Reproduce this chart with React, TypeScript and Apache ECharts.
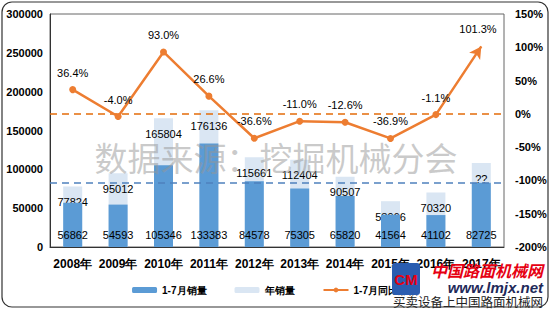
import React, { useEffect, useRef } from "react";
import * as echarts from "echarts";

const categories = ["2008年", "2009年", "2010年", "2011年", "2012年", "2013年", "2014年", "2015年", "2016年", "2017年"];
const monthSales = [56862, 54593, 105346, 133383, 84578, 75305, 65820, 41564, 41102, 82725];
const yearSales = [77824, 95012, 165804, 176136, 115661, 112404, 90507, 58966, 70320, 108000];
const yearLabels = ["77824", "95012", "165804", "176136", "115661", "112404", "90507", "58966", "70320", "??"];
const growth = [36.4, -4.0, 93.0, 26.6, -36.6, -11.0, -12.6, -36.9, -1.1, 101.3];
const legendNames = ["1-7月销量", "年销量", "1-7月同比涨幅"];

const FONT = "Liberation Sans, Arial, sans-serif";

export default function App() {
  const ref = useRef<HTMLDivElement>(null);
  useEffect(() => {
    if (!ref.current) return;
    const chart = echarts.init(ref.current, null, { renderer: "svg" });
    const lineData = growth.map((v, i) =>
      i === growth.length - 1
        ? { value: v, symbol: "arrow", symbolSize: [10, 12], symbolRotate: -34 }
        : v
    );
    chart.setOption({
      animation: false,
      backgroundColor: "#fff",
      textStyle: { fontFamily: FONT },
      grid: { left: 50, right: 46, top: 14, bottom: 63, show: true, borderColor: "#666", borderWidth: 1 },
      legend: {
        data: legendNames,
        bottom: 10,
        left: "center",
        itemWidth: 25,
        itemHeight: 6,
        itemGap: 28,
        textStyle: { fontSize: 10, fontWeight: "bold", color: "#000", fontFamily: FONT },
      },
      xAxis: {
        type: "category",
        data: categories,
        axisTick: { show: false },
        axisLine: { lineStyle: { color: "#333" } },
        axisLabel: { color: "#000", fontSize: 12, fontWeight: "bold", margin: 11, interval: 0, fontFamily: FONT },
      },
      yAxis: [
        {
          type: "value",
          min: 0,
          max: 300000,
          interval: 50000,
          splitLine: { show: false },
          axisLine: { show: true, lineStyle: { color: "#333" } },
          axisTick: { show: false },
          axisLabel: {
            color: "#000",
            fontSize: 11,
            fontWeight: "bold",
            margin: 7,
            fontFamily: FONT,
            formatter: (v: number) => String(v),
          },
        },
        {
          type: "value",
          min: -200,
          max: 150,
          interval: 50,
          splitLine: { show: false },
          axisLine: { show: false },
          axisTick: { show: false },
          axisLabel: { color: "#000", fontSize: 11, fontWeight: "bold", margin: 11, formatter: "{value}%", fontFamily: FONT },
        },
      ],
      series: [
        {
          name: "年销量",
          type: "bar",
          data: yearSales,
          barWidth: 19,
          barGap: "-100%",
          z: 2,
          itemStyle: { color: "#dae6f3" },
          label: {
            show: true,
            position: "insideTop",
            distance: 10,
            color: "#000",
            fontSize: 11,
            fontFamily: FONT,
            formatter: (p: any) => yearLabels[p.dataIndex],
          },
        },
        {
          name: "1-7月销量",
          type: "bar",
          data: monthSales,
          barWidth: 19,
          barGap: "-100%",
          z: 3,
          itemStyle: { color: "#5b9bd5" },
          label: {
            show: true,
            position: "insideBottom",
            distance: 7,
            color: "#000",
            fontSize: 11,
            fontFamily: FONT,
          },
          markLine: {
            silent: true,
            symbol: "none",
            label: { show: false },
            lineStyle: { color: "#4f81bd", type: [7, 5], width: 1.5 },
            data: [{ yAxis: 82725 }],
          },
        },
        {
          name: "1-7月同比涨幅",
          type: "line",
          yAxisIndex: 1,
          data: lineData,
          z: 5,
          symbol: "circle",
          symbolSize: 7,
          itemStyle: { color: "#ed7d31" },
          lineStyle: { color: "#ed7d31", width: 2.5 },
          label: {
            show: true,
            position: "top",
            distance: 8,
            color: "#000",
            fontSize: 11,
            fontFamily: FONT,
            formatter: (p: any) => p.value.toFixed(1) + "%",
          },
          markLine: {
            silent: true,
            symbol: "none",
            label: { show: false },
            lineStyle: { color: "#e46c0a", type: [7, 5], width: 1.5 },
            data: [{ yAxis: 0 }],
          },
        },
      ],
      graphic: [
        {
          type: "rect",
          shape: { x: 2, y: 2, width: 546, height: 305, r: 10 },
          style: { fill: "none", stroke: "#333", lineWidth: 1.2 },
          z: 100,
        },
        {
          type: "text",
          x: 276,
          y: 157,
          z: 50,
          style: {
            text: "数据来源：挖掘机械分会",
            fontSize: 33,
            fontFamily: "Noto Sans CJK SC",
            fill: "rgba(150,150,150,0.5)",
            align: "center",
            verticalAlign: "middle",
          },
        },
        {
          type: "rect",
          shape: { x: 392, y: 263, width: 28, height: 32, r: 3 },
          style: { fill: "#2a5db0" },
          z: 60,
        },
        {
          type: "text",
          x: 406,
          y: 279,
          z: 61,
          style: { text: "CM", fontSize: 15, fontWeight: "bold", fill: "#e60012", align: "center", verticalAlign: "middle", fontFamily: FONT },
        },
        {
          type: "text",
          x: 543,
          y: 270,
          z: 60,
          style: {
            text: "中国路面机械网",
            fontSize: 16,
            fontWeight: "bold",
            fontStyle: "italic",
            fill: "#e60012",
            align: "right",
            verticalAlign: "middle",
            fontFamily: "Noto Sans CJK SC",
          },
        },
        {
          type: "text",
          x: 543,
          y: 287,
          z: 60,
          style: {
            text: "www.lmjx.net",
            fontSize: 15,
            fontWeight: "bold",
            fontStyle: "italic",
            fill: "#1f2a5a",
            align: "right",
            verticalAlign: "middle",
            fontFamily: FONT,
          },
        },
        {
          type: "text",
          x: 543,
          y: 301,
          z: 60,
          style: {
            text: "买卖设备上中国路面机械网",
            fontSize: 12.5,
            fill: "#222",
            align: "right",
            verticalAlign: "middle",
            fontFamily: "Noto Sans CJK SC",
          },
        },
      ],
    });
    return () => chart.dispose();
  }, []);
  return <div ref={ref} style={{ width: 550, height: 310, position: "absolute", left: 0, top: 0 }} />;
}
